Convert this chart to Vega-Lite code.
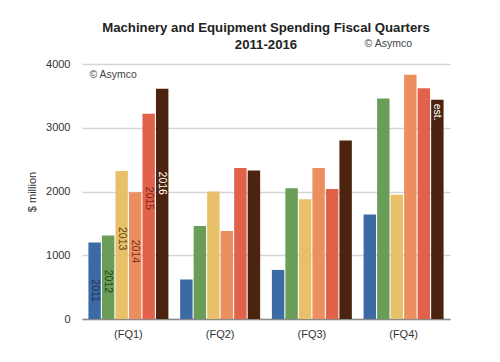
{
  "$schema": "https://vega.github.io/schema/vega-lite/v6.json",
  "width": 368,
  "height": 255,
  "autosize": {"type": "none"},
  "padding": {"left": 82, "top": 64, "right": 50, "bottom": 43},
  "background": "white",
  "config": {
    "font": "Liberation Sans",
    "view": {"stroke": null}
  },
  "title": {
    "text": ["Machinery and Equipment Spending Fiscal Quarters", "2011-2016"],
    "fontSize": 13.2,
    "fontWeight": "bold",
    "color": "#222222",
    "lineHeight": 17,
    "anchor": "middle",
    "offset": -13
  },
  "datasets": {
    "bars": [
      {"q": "(FQ1)", "year": "2011", "value": 1200},
      {"q": "(FQ1)", "year": "2012", "value": 1310},
      {"q": "(FQ1)", "year": "2013", "value": 2320},
      {"q": "(FQ1)", "year": "2014", "value": 1990},
      {"q": "(FQ1)", "year": "2015", "value": 3220},
      {"q": "(FQ1)", "year": "2016", "value": 3610},
      {"q": "(FQ2)", "year": "2011", "value": 620},
      {"q": "(FQ2)", "year": "2012", "value": 1460},
      {"q": "(FQ2)", "year": "2013", "value": 2000},
      {"q": "(FQ2)", "year": "2014", "value": 1380},
      {"q": "(FQ2)", "year": "2015", "value": 2370},
      {"q": "(FQ2)", "year": "2016", "value": 2330},
      {"q": "(FQ3)", "year": "2011", "value": 770},
      {"q": "(FQ3)", "year": "2012", "value": 2050},
      {"q": "(FQ3)", "year": "2013", "value": 1880},
      {"q": "(FQ3)", "year": "2014", "value": 2370},
      {"q": "(FQ3)", "year": "2015", "value": 2040},
      {"q": "(FQ3)", "year": "2016", "value": 2800},
      {"q": "(FQ4)", "year": "2011", "value": 1640},
      {"q": "(FQ4)", "year": "2012", "value": 3460},
      {"q": "(FQ4)", "year": "2013", "value": 1950},
      {"q": "(FQ4)", "year": "2014", "value": 3830},
      {"q": "(FQ4)", "year": "2015", "value": 3620},
      {"q": "(FQ4)", "year": "2016", "value": 3440}
    ],
    "labels": [
      {"q": "(FQ1)", "year": "2011", "label": "2011", "pos": 445},
      {"q": "(FQ1)", "year": "2012", "label": "2012", "pos": 590},
      {"q": "(FQ1)", "year": "2013", "label": "2013", "pos": 1260},
      {"q": "(FQ1)", "year": "2014", "label": "2014", "pos": 1060},
      {"q": "(FQ1)", "year": "2015", "label": "2015", "pos": 1890},
      {"q": "(FQ1)", "year": "2016", "label": "2016", "pos": 2130},
      {"q": "(FQ4)", "year": "2016", "label": "est.", "pos": 3245}
    ],
    "notes": [
      {"q": "(FQ1)", "v": 3830, "t": "© Asymco"},
      {"q": "(FQ4)", "v": 4310, "t": "© Asymco"}
    ]
  },
  "encoding": {
    "x": {
      "field": "q",
      "type": "nominal",
      "sort": ["(FQ1)", "(FQ2)", "(FQ3)", "(FQ4)"],
      "scale": {"domain": ["(FQ1)", "(FQ2)", "(FQ3)", "(FQ4)"], "paddingInner": 0.128, "paddingOuter": 0.07},
      "axis": {
        "title": null,
        "labelAngle": 0,
        "ticks": false,
        "domainColor": "#8a8a8a",
        "domainWidth": 1.5,
        "labelPadding": 9,
        "labelFontSize": 11,
        "labelColor": "#333333"
      }
    }
  },
  "layer": [
    {
      "data": {"name": "bars"},
      "mark": {"type": "bar"},
      "encoding": {
        "xOffset": {"field": "year", "type": "nominal", "scale": {"paddingInner": 0.08}},
        "y": {
          "field": "value",
          "type": "quantitative",
          "scale": {"domain": [0, 4000], "nice": false},
          "axis": {
            "values": [0, 1000, 2000, 3000, 4000],
            "format": "d",
            "title": "$ million",
            "titleFontSize": 11,
            "titleFontWeight": "normal",
            "titleColor": "#333333",
            "titlePadding": 8,
            "domain": false,
            "ticks": false,
            "labelPadding": 12,
            "labelFontSize": 11,
            "labelColor": "#333333",
            "gridColor": "#d6d6d6",
            "gridWidth": 1.5
          }
        },
        "color": {
          "field": "year",
          "type": "nominal",
          "scale": {
            "domain": ["2011", "2012", "2013", "2014", "2015", "2016"],
            "range": ["#3b6aa5", "#6a9e58", "#e8c06a", "#ec8f5e", "#e2614b", "#4b230e"]
          },
          "legend": null
        }
      }
    },
    {
      "data": {"name": "labels"},
      "mark": {"type": "text", "angle": 90, "align": "center", "baseline": "middle", "fontSize": 10.5},
      "encoding": {
        "xOffset": {"field": "year", "type": "nominal", "scale": {"paddingInner": 0.08}},
        "y": {"field": "pos", "type": "quantitative"},
        "text": {"field": "label"},
        "color": {
          "field": "year",
          "type": "nominal",
          "scale": {
            "domain": ["2011", "2012", "2013", "2014", "2015", "2016"],
            "range": ["#1c2f4d", "#203f1c", "#5a4212", "#7a2a18", "#7a1f18", "#ffffff"]
          },
          "legend": null
        }
      }
    },
    {
      "data": {"name": "notes"},
      "mark": {"type": "text", "align": "left", "baseline": "middle", "dx": -39, "fontSize": 10.5, "color": "#444444"},
      "encoding": {
        "y": {"field": "v", "type": "quantitative"},
        "text": {"field": "t"}
      }
    }
  ],
  "resolve": {"scale": {"color": "independent"}}
}
